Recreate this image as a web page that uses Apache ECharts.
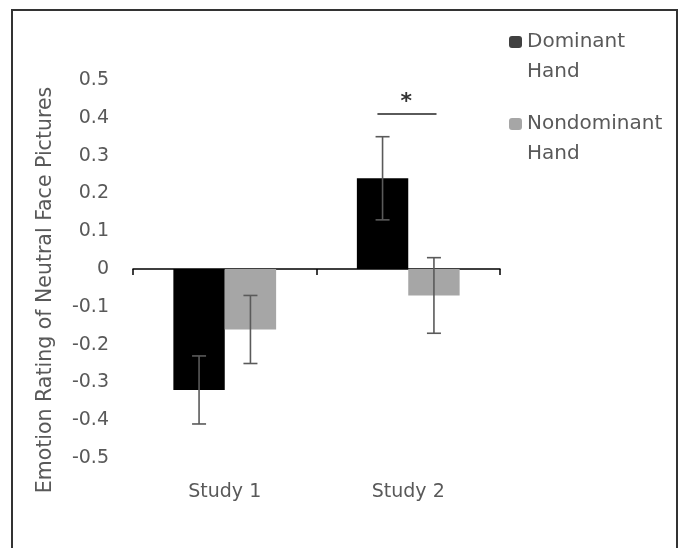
<!DOCTYPE html>
<html>
<head>
<meta charset="utf-8">
<style>html,body{margin:0;padding:0;background:#fff}#c{width:684px;height:548px}</style>
<script src="https://cdn.jsdelivr.net/npm/echarts@6/dist/echarts.min.js"></script>
</head>
<body>
<div id="c"></div>
<script>
const categories = ['Study 1', 'Study 2'];
const seriesNames = ['Dominant Hand', 'Nondominant Hand'];
const dominantMeans = [-0.32, 0.24];
const dominantErr = [0.09, 0.11];
const nondominantMeans = [-0.16, -0.07];
const nondominantErr = [0.09, 0.10];
const yTicks = { min: -0.5, max: 0.5, interval: 0.1 };
const significance = [{ category: 1, value: 0.41, label: '*' }];

const FONT = 'DejaVu Sans';
const TXT = '#595959';
const GAP = 0.44;

function errData(means, errs) {
  return means.map((m, i) => [i, m + errs[i], m - errs[i]]);
}
function errRender(offset) {
  return function (params, api) {
    const ci = api.value(0);
    const top = api.coord([ci, api.value(1)]);
    const bot = api.coord([ci, api.value(2)]);
    const band = api.size([1, 0])[0];
    const bw = band * (1 - GAP) / 2;
    const x = top[0] + offset * bw;
    const cap = 7;
    const st = { stroke: '#5a5a5a', lineWidth: 1.6 };
    return {
      type: 'group',
      children: [
        { type: 'line', shape: { x1: x, y1: top[1], x2: x, y2: bot[1] }, style: st },
        { type: 'line', shape: { x1: x - cap, y1: top[1], x2: x + cap, y2: top[1] }, style: st },
        { type: 'line', shape: { x1: x - cap, y1: bot[1], x2: x + cap, y2: bot[1] }, style: st }
      ]
    };
  };
}

const chart = echarts.init(document.getElementById('c'));
chart.setOption({
  animation: false,
  backgroundColor: '#fff',
  textStyle: { fontFamily: FONT },
  graphic: [{
    type: 'rect', z: -10, silent: true,
    shape: { x: 12, y: 10, width: 665, height: 600 },
    style: { fill: 'none', stroke: '#333', lineWidth: 2 }
  }],
  grid: { left: 133, right: 184, top: 80, bottom: 90 },
  legend: {
    orient: 'vertical', left: 509, top: -3, padding: 0, itemGap: -8,
    itemWidth: 13, itemHeight: 12,
    data: [
      { name: seriesNames[0], itemStyle: { color: '#404040' } },
      { name: seriesNames[1], itemStyle: { color: '#a6a6a6' } }
    ],
    formatter: n => ' \n' + n.replace(' ', '\n'),
    textStyle: { fontFamily: FONT, fontSize: 20, color: TXT, lineHeight: 30 }
  },
  xAxis: [{
    type: 'category', data: categories,
    axisLine: { onZero: true, lineStyle: { color: '#000', width: 1.5 } },
    axisTick: { show: true, length: 6, lineStyle: { color: '#000', width: 1.5 } },
    axisLabel: { show: false }
  }, {
    type: 'category', data: categories, position: 'bottom',
    axisLine: { show: false, onZero: false }, axisTick: { show: false },
    axisLabel: { fontFamily: FONT, fontSize: 19, color: TXT, margin: 25 }
  }],
  yAxis: {
    type: 'value', min: yTicks.min, max: yTicks.max, interval: yTicks.interval,
    splitLine: { show: false }, axisLine: { show: false }, axisTick: { show: false },
    axisLabel: { fontFamily: FONT, fontSize: 19, color: TXT, margin: 24,
      formatter: v => String(Math.round(v * 10) / 10) },
    name: 'Emotion Rating of Neutral Face Pictures',
    nameLocation: 'middle', nameGap: 77,
    nameTextStyle: { fontFamily: FONT, fontSize: 20.5, color: TXT, padding: [0, 42, 0, 0] }
  },
  series: [
    { name: seriesNames[0], type: 'bar', data: dominantMeans, barGap: '0%', barCategoryGap: '44%',
      itemStyle: { color: '#000' } },
    { name: seriesNames[1], type: 'bar', data: nondominantMeans, barGap: '0%', barCategoryGap: '44%',
      itemStyle: { color: '#a6a6a6' } },
    { type: 'custom', data: errData(dominantMeans, dominantErr), renderItem: errRender(-0.5), z: 5 },
    { type: 'custom', data: errData(nondominantMeans, nondominantErr), renderItem: errRender(0.5), z: 5 },
    { type: 'custom', z: 5,
      data: significance.map(s => [s.category, s.value]),
      renderItem: function (params, api) {
        const p = api.coord([api.value(0), api.value(1)]);
        const band = api.size([1, 0])[0];
        const bw = band * (1 - GAP) / 2;
        return {
          type: 'group',
          children: [
            { type: 'line', shape: { x1: p[0] - bw * 0.6, y1: p[1], x2: p[0] + bw * 0.55, y2: p[1] },
              style: { stroke: '#5a5a5a', lineWidth: 2.2 } },
            { type: 'text', style: { x: p[0] - 2, y: p[1] - 12, text: significance[params.dataIndex].label,
              fontFamily: FONT, fontSize: 22, fontWeight: 'bold', fill: '#333', align: 'center', verticalAlign: 'middle' } }
          ]
        };
      }
    }
  ]
});
</script>
</body>
</html>
